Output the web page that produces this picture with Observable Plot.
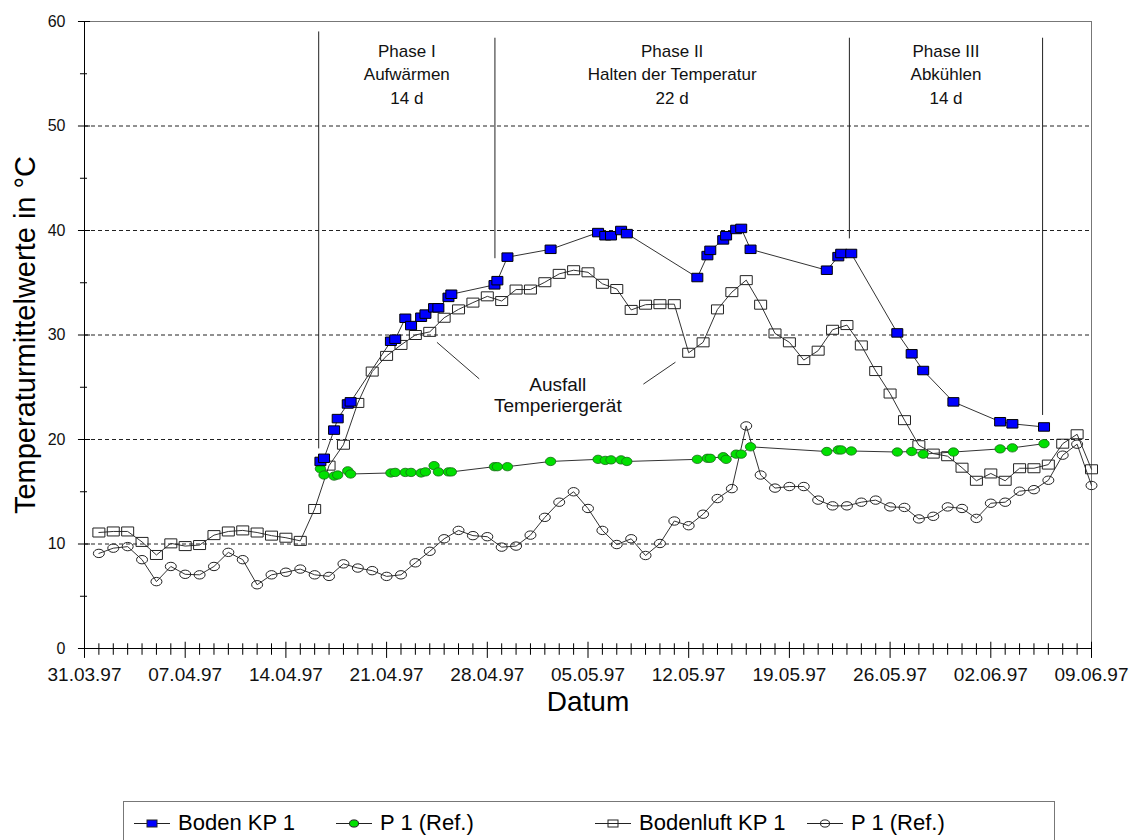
<!DOCTYPE html>
<html>
<head>
<meta charset="utf-8">
<script src="https://cdn.jsdelivr.net/npm/d3@7"></script>
<script src="https://cdn.jsdelivr.net/npm/@observablehq/plot@0.6"></script>
<style>
  body { margin: 0; background: #fff; font-family: "Liberation Sans", Arial, sans-serif; }
  #wrap { position: relative; width: 1130px; height: 840px; overflow: hidden; background: #fff; }
  #legend { position: absolute; left: 123px; top: 801px; width: 932px; height: 60px;
            border: 1px solid #777; box-sizing: border-box; }
  .item { position: absolute; top: 8px; display: flex; align-items: center; font-size: 22px; color: #000; white-space: nowrap; }
  .item svg { margin-right: 8px; }
</style>
</head>
<body>
<div id="wrap"><div id="legend"></div></div>
<script>
// Day 0 of the time axis: 31.03.97
const start = Date.UTC(1997, 2, 31);
const day = d => new Date(start + d * 864e5);

// Boden KP 1 and its reference P 1 (Ref.): measurement times (days after 31.03.97)
const bodenTage = [16.4, 16.65, 17.35, 17.6, 18.3, 18.5, 21.3, 21.6, 22.3, 22.7, 23.4, 23.7, 24.3, 24.6, 25.3, 25.5,
  28.5, 28.7, 29.4, 32.4, 35.7, 36.2, 36.6, 37.3, 37.7, 42.6, 43.3, 43.5, 44.4, 44.6, 45.3, 45.65, 46.3,
  51.6, 52.4, 52.6, 53.3, 56.5, 57.5, 58.3, 60.4, 63.65, 64.5, 66.7];
const bodenKP1 = [17.9, 18.2, 20.9, 22.0, 23.4, 23.6, 29.4, 29.6, 31.6, 30.9, 31.7, 32.0, 32.6, 32.6, 33.6, 33.9,
  34.8, 35.2, 37.45, 38.2, 39.8, 39.5, 39.5, 40.0, 39.7, 35.5, 37.6, 38.1, 39.1, 39.5, 40.1, 40.2, 38.2,
  36.2, 37.5, 37.8, 37.8, 30.2, 28.2, 26.6, 23.6, 21.7, 21.5, 21.2];
const bodenRef = [17.2, 16.6, 16.5, 16.6, 17.0, 16.7, 16.8, 16.85, 16.85, 16.85, 16.8, 16.9, 17.5, 16.9, 16.9, 16.9,
  17.4, 17.4, 17.4, 17.9, 18.1, 18.0, 18.05, 18.05, 17.9, 18.1, 18.2, 18.2, 18.35, 18.1, 18.6, 18.6, 19.3,
  18.85, 19.0, 19.0, 18.9, 18.8, 18.85, 18.6, 18.8, 19.1, 19.2, 19.6];

// Bodenluft KP 1 and its reference P 1 (Ref.): daily values from 01.04.97 to 09.06.97
const luftTage = d3.range(1, 71);
const bodenluftKP1 = [11.1, 11.2, 11.2, 10.2, 8.95, 10.06, 9.8, 9.9, 10.85, 11.2,
  11.3, 11.1, 10.8, 10.6, 10.3, 13.35, 17.5, 19.5, 23.5, 26.5,
  28.0, 29.05, 30.0, 30.3, 31.65, 32.45, 33.1, 33.7, 33.25, 34.35,
  34.35, 35.05, 35.85, 36.2, 36.0, 34.9, 34.4, 32.4, 32.9, 32.95,
  32.95, 28.3, 29.3, 32.45, 34.1, 35.25, 32.9, 30.15, 29.3, 27.6,
  28.5, 30.5, 30.95, 29.0, 26.55, 24.4, 21.85, 19.45, 18.65, 18.4,
  17.3, 16.05, 16.75, 16.05, 17.25, 17.25, 17.6, 19.6, 20.5, 17.15];
const luftRef = [9.1, 9.6, 9.75, 8.5, 6.4, 7.85, 7.1, 7.05, 7.85, 9.2,
  8.5, 6.1, 7.05, 7.3, 7.6, 7.05, 6.9, 8.1, 7.7, 7.45,
  6.9, 7.05, 8.2, 9.3, 10.5, 11.3, 10.8, 10.7, 9.7, 9.8,
  10.85, 12.55, 14.0, 15.0, 13.4, 11.3, 9.95, 10.5, 8.9, 10.05,
  12.2, 11.75, 12.85, 14.35, 15.3, 21.3, 16.6, 15.35, 15.5, 15.5,
  14.2, 13.65, 13.65, 14.0, 14.2, 13.55, 13.5, 12.4, 12.65, 13.55,
  13.4, 12.45, 13.9, 14.0, 15.05, 15.2, 16.1, 18.5, 19.55, 15.6];

// Phase boundaries (days after 31.03.97) with the upper/lower end of each marker line (°C)
const phasenGrenzen = [16.28, 28.53, 53.17, 66.6];
const phasenOben = [59.0, 58.4, 58.4, 58.4];
const phasenUnten = [19.1, 37.3, 39.2, 22.3];
const phasenText = ["Phase I\nAufwärmen\n14 d", "Phase II\nHalten der Temperatur\n22 d", "Phase III\nAbkühlen\n14 d"];

// Annotation for the failure of the temperature control unit
const ausfallText = "Ausfall\nTemperiergerät";
const ausfallPos = [32.9, 24.3];
const ausfallLinien = [
  {x1: 24.5, y1: 29.3, x2: 27.44, y2: 25.8},
  {x1: 41.08, y1: 27.4, x2: 38.85, y2: 25.3}
];

// Axis ticks
const wochenTicks = d3.range(0, 71, 7);
const tagTicks = d3.range(0, 71).filter(d => d % 7 !== 0);
const yMajor = d3.range(0, 61, 10);
const yMinor = d3.range(5, 60, 10);
const gitter = [10, 20, 30, 40, 50];

// Legend entries
const legende = [
  {label: "Boden KP 1", kind: "rect", fill: "#0000ff"},
  {label: "P 1 (Ref.)", kind: "ellipse", fill: "#00e000"},
  {label: "Bodenluft KP 1", kind: "rect", fill: "none"},
  {label: "P 1 (Ref.)", kind: "ellipse", fill: "none"}
];
const legendeX = [133, 335, 594, 806];

// Marker shapes: slightly wide rectangles and ellipses
const rectSymbol = (w, h) => ({
  draw(ctx) {
    ctx.moveTo(-w / 2, -h / 2); ctx.lineTo(w / 2, -h / 2);
    ctx.lineTo(w / 2, h / 2); ctx.lineTo(-w / 2, h / 2); ctx.closePath();
  }
});
const ellipseSymbol = (rx, ry) => ({
  draw(ctx) {
    const k = 0.5523;
    ctx.moveTo(rx, 0);
    ctx.bezierCurveTo(rx, ry * k, rx * k, ry, 0, ry);
    ctx.bezierCurveTo(-rx * k, ry, -rx, ry * k, -rx, 0);
    ctx.bezierCurveTo(-rx, -ry * k, -rx * k, -ry, 0, -ry);
    ctx.bezierCurveTo(rx * k, -ry, rx, -ry * k, rx, 0);
    ctx.closePath();
  }
});

const boden = bodenTage.map((t, i) => ({t: day(t), kp: bodenKP1[i], ref: bodenRef[i]}));
const luft = luftTage.map((t, i) => ({t: day(t), kp: bodenluftKP1[i], ref: luftRef[i]}));
const phasen = phasenGrenzen.map((t, i) => ({t: day(t), y1: phasenUnten[i], y2: phasenOben[i]}));
const phasenLabels = phasenText.map((s, i) => ({
  t: day((phasenGrenzen[i] + phasenGrenzen[i + 1]) / 2), s
}));

const lineStyle = {stroke: "#333", strokeWidth: 1};

const chart = Plot.plot({
  width: 1130,
  height: 800,
  marginLeft: 84,
  marginRight: 39,
  marginTop: 21,
  marginBottom: 152,
  x: {type: "utc", domain: [day(0), day(70)]},
  y: {domain: [0, 60]},
  style: {fontFamily: "'Liberation Sans', Arial, sans-serif", color: "#111", background: "#fff"},
  marks: [
    Plot.frame({stroke: "#777"}),
    Plot.ruleY(gitter, {stroke: "#222", strokeWidth: 1, strokeDasharray: "4,3"}),
    Plot.ruleX([day(0)], {stroke: "#000"}),
    Plot.ruleY([0], {stroke: "#000"}),
    // x ticks crossing the axis: weekly major, daily minor
    Plot.ruleX(wochenTicks, {x: d => day(d), y1: -0.95, y2: 0.6, stroke: "#000"}),
    Plot.ruleX(tagTicks, {x: d => day(d), y1: -0.65, y2: 0.45, stroke: "#000"}),
    // y ticks crossing the axis
    Plot.ruleY(yMajor, {y: d => d, x1: day(-0.42), x2: day(0.42), stroke: "#000"}),
    Plot.ruleY(yMinor, {y: d => d, x1: day(-0.28), x2: day(0.21), stroke: "#000"}),
    Plot.axisX({ticks: wochenTicks.map(day), tickFormat: d3.utcFormat("%d.%m.%y"),
      tickSize: 0, tickPadding: 19, fontSize: 19, label: null}),
    Plot.axisY({ticks: yMajor, tickSize: 0, tickPadding: 19, fontSize: 16, label: null}),
    Plot.text(["Datum"], {frameAnchor: "bottom", dy: 62, fontSize: 28, fill: "#000"}),
    Plot.text(["Temperaturmittelwerte in °C"], {frameAnchor: "left", dx: -59, rotate: -90,
      textAnchor: "middle", fontSize: 29, fill: "#000"}),

    // phase boundaries and labels
    Plot.ruleX(phasen, {x: "t", y1: "y1", y2: "y2", stroke: "#222", strokeWidth: 1}),
    Plot.text(phasenLabels, {x: "t", y: 55.1, text: "s", fontSize: 17, lineHeight: 1.4, fill: "#111"}),

    // failure annotation
    Plot.link(ausfallLinien, {x1: d => day(d.x1), y1: "y1", x2: d => day(d.x2), y2: "y2", stroke: "#333"}),
    Plot.text([ausfallText], {x: day(ausfallPos[0]), y: ausfallPos[1], fontSize: 19, lineHeight: 1.15, fill: "#111"}),

    // Bodenluft KP 1 (open squares) and P 1 (Ref.) (open circles)
    Plot.line(luft, {x: "t", y: "ref", ...lineStyle}),
    Plot.dot(luft, {x: "t", y: "ref", symbol: ellipseSymbol(5.5, 4.2), r: 5, fill: "none", stroke: "#222", strokeWidth: 1}),
    Plot.line(luft, {x: "t", y: "kp", ...lineStyle}),
    Plot.dot(luft, {x: "t", y: "kp", symbol: rectSymbol(12, 9), r: 5, fill: "none", stroke: "#222", strokeWidth: 1}),

    // Boden KP 1 (blue squares) and P 1 (Ref.) (green circles)
    Plot.line(boden, {x: "t", y: "ref", ...lineStyle}),
    Plot.dot(boden, {x: "t", y: "ref", symbol: ellipseSymbol(5.2, 4.2), r: 5, fill: "#00e000", stroke: "#1a6a1a", strokeWidth: 0.8}),
    Plot.line(boden, {x: "t", y: "kp", ...lineStyle}),
    Plot.dot(boden, {x: "t", y: "kp", symbol: rectSymbol(11, 8.5), r: 5, fill: "#0000ff", stroke: "#000", strokeWidth: 1})
  ]
});

const wrap = document.getElementById("wrap");
wrap.insertBefore(chart, wrap.firstChild);

// Legend below the chart
const legend = document.getElementById("legend");
legende.forEach((e, i) => {
  const item = document.createElement("div");
  item.className = "item";
  item.style.left = (legendeX[i] - 123) + "px";
  const marker = e.kind === "rect"
    ? `<rect x="13" y="5" width="10" height="7" fill="${e.fill}" stroke="#222" stroke-width="1"/>`
    : `<ellipse cx="18" cy="8.5" rx="4.5" ry="3.6" fill="${e.fill}" stroke="#222" stroke-width="1"/>`;
  item.innerHTML = `<svg width="36" height="17"><line x1="0" x2="36" y1="8.5" y2="8.5" stroke="#222" stroke-width="1"/>${marker}</svg><span>${e.label}</span>`;
  legend.appendChild(item);
});
</script>
</body>
</html>
